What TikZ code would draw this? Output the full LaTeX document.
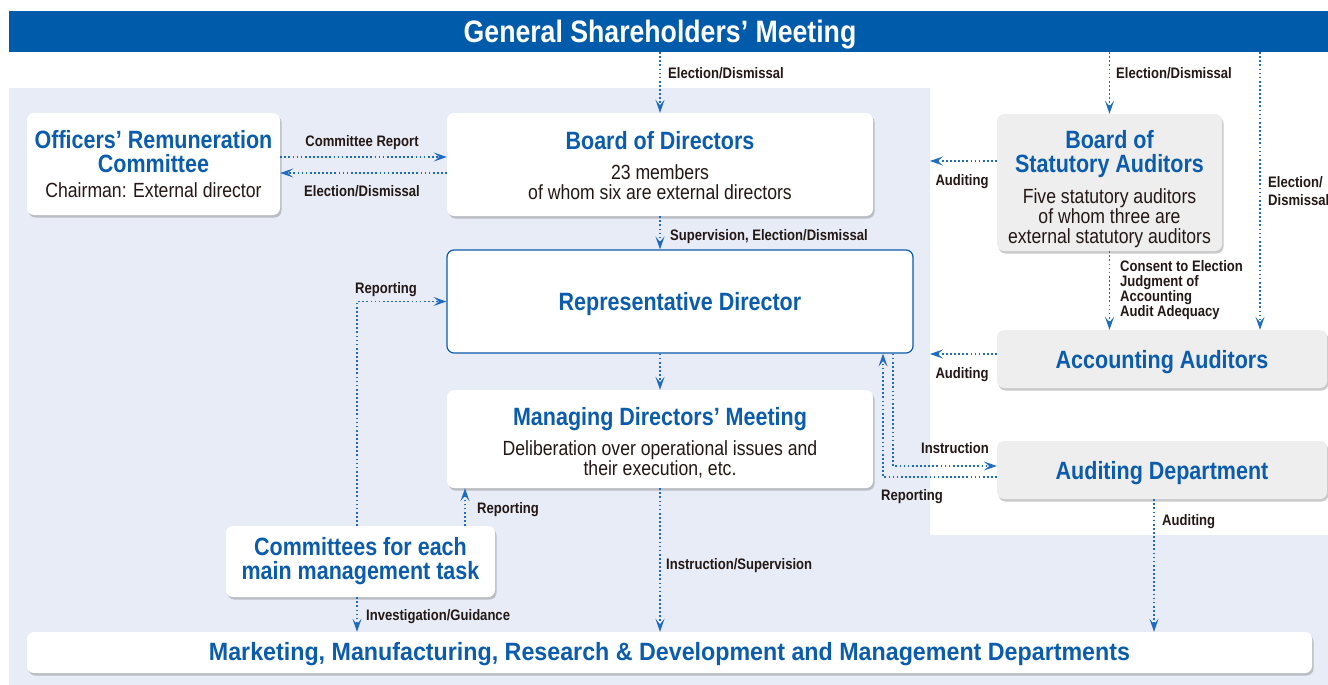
\documentclass[tikz,border=0pt]{standalone}
\usepackage{fontspec}
\setmainfont{Liberation Sans}
\newfontfamily\condf{Liberation Sans}[FakeStretch=0.86]
\newfontfamily\widef{Liberation Sans}[FakeStretch=0.93]
\usetikzlibrary{arrows.meta,shadows,calc}
\definecolor{tblue}{HTML}{005BAB}
\definecolor{nblue}{HTML}{0B5CAD}
\definecolor{lnblue}{HTML}{1E6BC0}
\definecolor{bgblue}{HTML}{E8ECF6}
\definecolor{gbox}{HTML}{EEEEEE}
\definecolor{txt}{HTML}{231815}
\newcommand\ttl{\condf\bfseries\fontsize{25}{20}\selectfont\color{nblue}}
\newcommand\bdy{\condf\fontsize{20.5}{20}\selectfont\color{txt}}
\newcommand\lbl{\condf\bfseries\fontsize{15.2}{15}\selectfont\color{txt}}
\begin{document}
\begin{tikzpicture}[x=1pt,y=-1pt,
 shbox/.style={rounded corners=7pt, fill=white, align=center, inner sep=0pt,
   font=\fontsize{20}{20}\selectfont,
   drop shadow={shadow xshift=1.5pt,shadow yshift=-2.5pt,opacity=0.35,fill=black!60}},
 gbx/.style={shbox, fill=gbox},
 rdbox/.style={rounded corners=7pt, fill=white, draw=nblue, line width=1.2pt, align=center, inner sep=0pt},
 oneline/.style={text height=18pt, text depth=0pt},
 conn/.style={draw=lnblue, line width=1.7pt, dash pattern=on 1.7pt off 2.4pt,
   -{Stealth[length=13pt,width=9pt,inset=5.5pt]}},
 lab/.style={font=\lbl, inner sep=0pt, align=left},
]
\useasboundingbox (0,0) rectangle (1328,685);
\fill[bgblue] (9,88) -- (930,88) -- (930,535) -- (1328,535) -- (1328,685) -- (9,685) -- cycle;

% helper coordinates
\coordinate (xedge) at (930,0);
\coordinate (x1260) at (1260,0);
\coordinate (x357) at (357,0);
\coordinate (x465) at (465,0);
\coordinate (x1154) at (1154,0);
\coordinate (x893) at (893,0);
\coordinate (x883) at (883,0);

% title bar
\node[fill=tblue, minimum width=1319pt, minimum height=41pt, inner sep=0pt, text=white,
  text height=22pt, text depth=0pt,
  font=\condf\bfseries\fontsize{31}{30}\selectfont] (gsm) at (668.5,31.5)
  {\hspace*{-17pt}General Shareholders’ Meeting};

% boxes
\node[shbox, minimum width=253pt, minimum height=102pt] (orc) at (153.5,164)
  {\ttl Officers’ Remuneration\\[4pt]\ttl Committee\\[5pt]\bdy Chairman: External director};
\node[shbox, minimum width=426pt, minimum height=103pt] (bod) at (660,164.5)
  {\ttl\rule{0pt}{20pt}Board of Directors\\[10pt]\bdy 23 members\\\bdy of whom six are external directors};
\node[gbx, minimum width=225pt, minimum height=137pt] (bsa) at (1109.5,182.5)
  {\ttl\rule{0pt}{32pt}Board of\\[4pt]\ttl Statutory Auditors\\[10pt]\bdy Five statutory auditors\\\bdy of whom three are\\\bdy external statutory auditors};
\node[rdbox, oneline, minimum width=466pt, minimum height=103pt] (rd) at (680,301.5)
  {\ttl Representative Director};
\node[gbx, oneline, minimum width=330pt, minimum height=58pt] (aa) at (1162,359)
  {\ttl Accounting Auditors};
\node[shbox, minimum width=426pt, minimum height=98pt] (mdm) at (660,439)
  {\ttl\rule{0pt}{25pt}Managing Directors’ Meeting\\[9pt]\bdy Deliberation over operational issues and\\\bdy their execution, etc.};
\node[gbx, oneline, minimum width=330pt, minimum height=58pt] (ad) at (1162,470)
  {\ttl Auditing Department};
\node[shbox, minimum width=269pt, minimum height=71pt] (cmt) at (360.5,561.5)
  {\ttl Committees for each\\[4pt]\ttl main management task};
\node[shbox, text height=15pt, text depth=0pt, minimum width=1285pt, minimum height=41pt] (bot) at (669.5,652.5)
  {\widef\bfseries\fontsize{25}{20}\selectfont\color{nblue}Marketing, Manufacturing, Research \& Development and Management Departments};

% connectors
\draw[conn] (gsm.south -| bod.north) -- (bod.north);
\draw[conn] (gsm.south -| bsa.north) -- (bsa.north);
\draw[conn] (gsm.south -| x1260) -- (aa.north -| x1260);
\draw[conn] ([yshift=7pt]orc.east) -- ([yshift=7pt]orc.east -| bod.west);
\draw[conn] ([yshift=-8.5pt]bod.west) -- ([yshift=-8.5pt]bod.west -| orc.east);
\draw[conn] ([yshift=21.5pt]bsa.west) -- ([yshift=21.5pt]bsa.west -| xedge);
\draw[conn] (bod.south) -- (bod.south |- rd.north);
\draw[conn] (bsa.south) -- (bsa.south |- aa.north);
\draw[conn] ([yshift=5pt]aa.west) -- ([yshift=5pt]aa.west -| xedge);
\draw[conn] (rd.south -| mdm.north) -- (mdm.north);
\draw[conn] (cmt.north -| x357) |- (rd.west);
\draw[conn] (cmt.north -| x465) -- (mdm.south -| x465);
\draw[conn] (cmt.south -| x357) -- (bot.north -| x357);
\draw[conn] (mdm.south) -- (mdm.south |- bot.north);
\draw[conn] (ad.south -| x1154) -- (bot.north -| x1154);
\draw[conn] (rd.south -| x893) |- ([yshift=4pt]ad.west);
\draw[conn] ([yshift=-7pt]ad.west) -| (rd.south -| x883);

% labels
\node[lab, anchor=west] (l1) at (668,73) {Election/Dismissal};
\node[lab, anchor=west] (l2) at (1116,73) {Election/Dismissal};
\node[lab, anchor=west] (l3) at (1268,191) {Election/\\[3pt]Dismissal};
\node[lab] (l4) at (362,143) {Committee Report};
\node[lab] (l5) at (362,191) {Election/Dismissal};
\node[lab] (l6) at (962,182) {Auditing};
\node[lab, anchor=west] (l7) at (670,237) {Supervision, Election/Dismissal};
\node[lab, anchor=west] (l8) at (1120,290) {Consent to Election\\Judgment of\\Accounting\\Audit Adequacy};
\node[lab] (l9) at (962,375) {Auditing};
\node[lab] (l10) at (386,290) {Reporting};
\node[lab, anchor=west] (l11) at (477,510) {Reporting};
\node[lab, anchor=west] (l12) at (366,617) {Investigation/Guidance};
\node[lab, anchor=west] (l13) at (666,566) {Instruction/Supervision};
\node[lab, anchor=west] (l14) at (1162,522) {Auditing};
\node[lab] (l15) at (955,448) {Instruction};
\node[lab] (l16) at (912,497) {Reporting};
\end{tikzpicture}
\end{document}
